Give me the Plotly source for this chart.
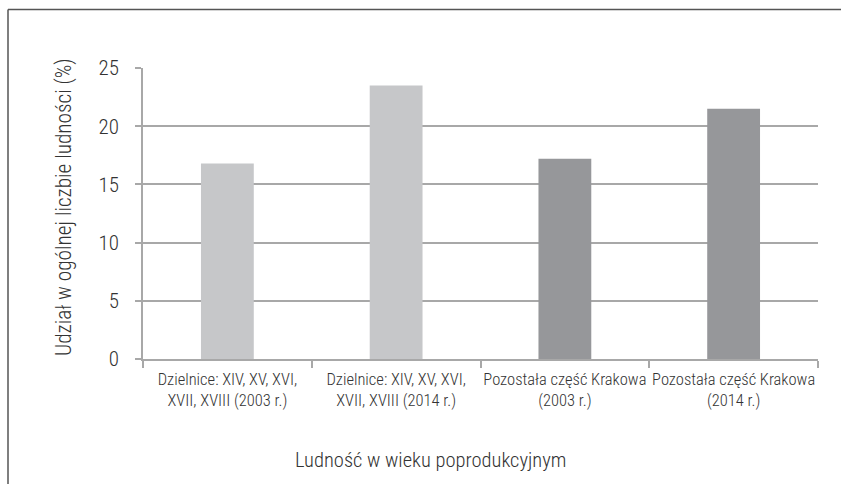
import plotly.graph_objects as go

categories = [
    "Dzielnice: XIV, XV, XVI,<br>XVII, XVIII (2003 r.)",
    "Dzielnice: XIV, XV, XVI,<br>XVII, XVIII (2014 r.)",
    "Pozostała część Krakowa<br>(2003 r.)",
    "Pozostała część Krakowa<br>(2014 r.)",
]
values = [16.8, 23.5, 17.2, 21.5]
colors = ["#C6C7C9", "#C6C7C9", "#96979A", "#96979A"]
y_ticks = [0, 5, 10, 15, 20, 25]
x_title = "Ludność w wieku poprodukcyjnym"
y_title = "Udział w ogólnej liczbie ludności (%)"

FONT = "Roboto Condensed, Liberation Sans Narrow, DejaVu Sans Condensed, sans-serif"
TXT = "#333333"
W, H = 841, 484
ML, MR, MT, MB = 143, 23, 68, 125
PW, PH = W - ML - MR, H - MT - MB

def px_x(p):
    return (p - ML) / PW

def px_y(p):
    return (H - MB - p) / PH

fig = go.Figure(go.Bar(
    x=categories, y=values, marker=dict(color=colors, line=dict(width=0)),
    width=0.313,
))

fig.update_layout(
    width=W, height=H,
    margin=dict(l=ML, r=MR, t=MT, b=MB, autoexpand=False),
    paper_bgcolor="white", plot_bgcolor="white",
    font=dict(family=FONT, color=TXT, weight=300),
    showlegend=False,
    shapes=[
        dict(type="line", xref="paper", yref="paper",
             x0=px_x(8), x1=px_x(841), y0=px_y(9.5), y1=px_y(9.5),
             line=dict(color="#555555", width=1.5)),
        dict(type="line", xref="paper", yref="paper",
             x0=px_x(8), x1=px_x(8), y0=px_y(9.5), y1=px_y(484),
             line=dict(color="#555555", width=1.5)),
    ],
    annotations=[
        dict(text=x_title, xref="paper", yref="paper",
             x=px_x(430), y=px_y(460), xanchor="center", yanchor="middle",
             showarrow=False, font=dict(size=20.5, color=TXT, weight=300)),
        dict(text=y_title, xref="paper", yref="paper", textangle=-90,
             x=px_x(64), y=px_y(207), xanchor="center", yanchor="middle",
             showarrow=False, font=dict(size=21.3, color=TXT, weight=300)),
    ],
)

fig.update_yaxes(
    range=[0, 25], tickvals=y_ticks, ticktext=[str(v) for v in y_ticks],
    showgrid=True, gridcolor="#A8A8A8", gridwidth=1.5,
    showline=True, linecolor="#A8A8A8", linewidth=1.5,
    ticks="outside", ticklen=6, tickcolor="#A8A8A8", tickwidth=1.5,
    ticklabelstandoff=12,
    tickfont=dict(size=21, color=TXT, weight=300),
    zeroline=False, automargin=False,
)
fig.update_xaxes(
    showline=True, linecolor="#A8A8A8", linewidth=1.5,
    ticks="outside", tickson="boundaries", ticklen=7, tickcolor="#A8A8A8", tickwidth=1.5,
    tickangle=0, automargin=False, ticklabelstandoff=4,
    tickfont=dict(size=16.5, color=TXT, weight=300),
)

fig.write_html(
    "out.html",
    config={"displayModeBar": False},
    post_script=(
        "document.body.style.margin='0px';"
        "document.body.style.overflow='hidden';"
        "document.documentElement.style.overflow='hidden';"
    ),
)
